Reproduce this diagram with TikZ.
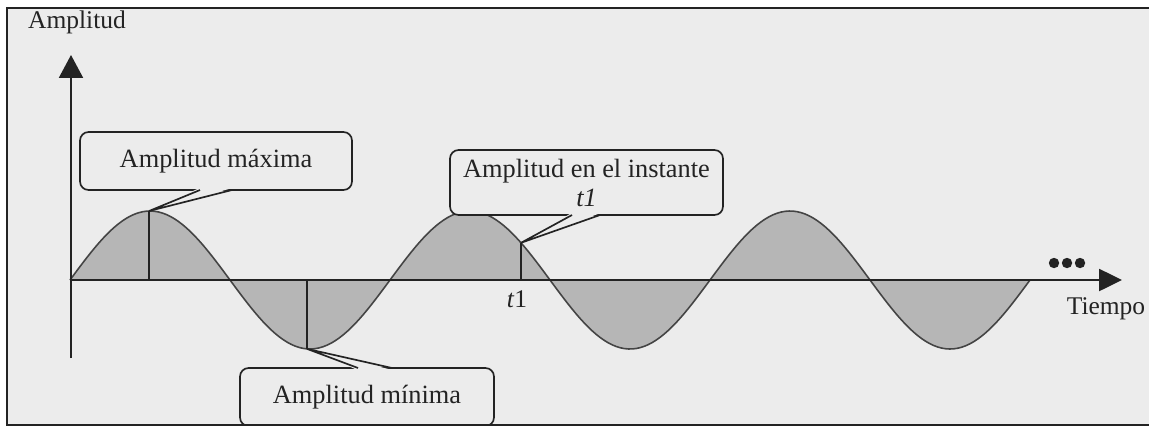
\documentclass[tikz,border=0pt]{standalone}
\usepackage{fontspec}
\setmainfont{Liberation Serif}
\usetikzlibrary{arrows.meta,calc}
\definecolor{paper}{RGB}{236,236,236}
\definecolor{ink}{RGB}{35,35,35}
\definecolor{shadefill}{RGB}{182,182,182}
\tikzset{
  axisline/.style={draw=ink, line width=1.2pt},
  wave/.style={draw=ink!85, line width=0.9pt},
  marker/.style={draw=ink, line width=1.05pt},
  callout/.style={draw=ink, line width=0.95pt, rounded corners=0.17cm, fill=paper,
     font=\fontsize{15}{15.5}\selectfont, text=ink, align=center, inner sep=0pt},
  wedgeside/.style={draw=ink, line width=0.95pt, line join=miter},
  lbl/.style={font=\fontsize{14.5}{16}\selectfont, text=ink, inner sep=0pt},
}
\begin{document}
\begin{tikzpicture}[x=0.02cm,y=-0.02cm]
\useasboundingbox (0,0) rectangle (1149,427);
% paper and frame
\fill[white] (0,0) rectangle (1149,427);
\fill[paper] (7,8) rectangle (1149,425);
\draw[ink, line width=0.9pt] (1149,8) -- (7,8) -- (7,425) -- (1149,425);
% shaded areas under the wave
\fill[shadefill] (70,280) -- plot[domain=70:1030, samples=240] (\x, {280-69*sin((\x-70)*1.125)}) -- (1030,280) -- cycle;
\draw[wave] plot[domain=70:1030, samples=240] (\x, {280-69*sin((\x-70)*1.125)});
% marker coordinates
\coordinate (pmax) at (149,{280-69*sin((149-70)*1.125)});
\coordinate (pmaxb) at (149,280);
\coordinate (pmin) at (307,{280-69*sin((307-70)*1.125)});
\coordinate (pminb) at (307,280);
\coordinate (pt1) at (521,{280-69*sin((521-70)*1.125)});
\coordinate (pt1b) at (521,280);
\draw[marker] (pmaxb) -- (pmax);
\draw[marker] (pminb) -- (pmin);
\draw[marker] (pt1b) -- (pt1);
% axes
\coordinate (o) at (71,358);
\coordinate (ytip) at (71,55);
\coordinate (xo) at (70,280);
\coordinate (xtip) at (1122,280);
\draw[axisline, -{Triangle[length=13pt,width=13.6pt]}] (o) -- (ytip);
\draw[axisline, -{Triangle[length=13pt,width=12.5pt]}] (xo) -- (xtip);
\node[lbl] (ylab) at (77,22) {Amplitud};
\node[lbl] (xlab) at (1106,309) {Tiempo};
\node[lbl] (t1lab) at (517,299) {\textit{t}1};
% dots
\fill[ink] (1054,263) circle (5.2) (1067,263) circle (5.2) (1080,263) circle (5.2);
\node[inner sep=0pt, minimum size=0pt] (dots) at (1067,263) {};
% callouts
\node[callout, minimum width=5.44cm, minimum height=1.16cm] (maxbox) at (216,161) {Amplitud máxima};
\node[callout, minimum width=5.46cm, minimum height=1.3cm] (t1box) at (586.5,182.5) {Amplitud en el instante\\[1pt]\textit{t1}};
\node[callout, minimum width=5.08cm, minimum height=1.16cm] (minbox) at (367,397) {Amplitud mínima};
% wedges
\coordinate (ma1) at (200,190); \coordinate (ma2) at (232,190);
\fill[paper] ($(ma1)+(-0.5,-2)$) -- (pmax) -- ($(ma2)+(0.5,-2)$) -- cycle;
\draw[wedgeside] (ma1) -- (pmax) -- (ma2);
\coordinate (ta1) at (572,215); \coordinate (ta2) at (600,215);
\fill[paper] ($(ta1)+(-0.5,-2)$) -- (pt1) -- ($(ta2)+(0.5,-2)$) -- cycle;
\draw[wedgeside] (ta1) -- (pt1) -- (ta2);
\coordinate (mi1) at (358,368); \coordinate (mi2) at (392,368);
\fill[paper] ($(mi1)+(-0.5,2)$) -- (pmin) -- ($(mi2)+(0.5,2)$) -- cycle;
\draw[wedgeside] (mi1) -- (pmin) -- (mi2);
% frame bottom on top of box
\draw[ink, line width=0.9pt] (7,425) -- (1149,425);
\fill[white] (0,426) rectangle (1149,427);
\end{tikzpicture}
\end{document}
